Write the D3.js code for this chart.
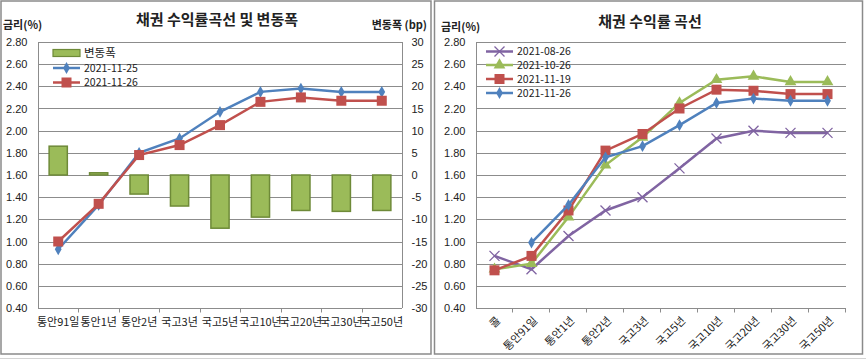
<!DOCTYPE html>
<html>
<head>
<meta charset="utf-8">
<script src="https://cdn.jsdelivr.net/npm/d3@7/dist/d3.min.js"></script>
<style>
  body { margin: 0; background: #fff; }
  svg { display: block; font-family: "Noto Sans CJK KR", "Noto Sans", sans-serif; }
  .grid line { stroke: #8c8c8c; stroke-width: 1; }
  .axis path, .axis line { stroke: #8c8c8c; }
  .axis text { fill: #222; font-size: 11px; }
</style>
</head>
<body>
<svg id="chart" width="866" height="361"></svg>
<script>
// left chart: 2021-11-25 vs 2021-11-26
const leftCats = ['통안91일', '통안1년', '통안2년', '국고3년', '국고5년', '국고10년', '국고20년', '국고30년', '국고50년'];
const leftPrev = [0.93, 1.33, 1.80, 1.93, 2.17, 2.35, 2.38, 2.35, 2.35];
const leftCurr = [1.00, 1.34, 1.78, 1.87, 2.05, 2.26, 2.30, 2.27, 2.27];
const leftChange = [6.5, 0.5, -4.3, -7.0, -12.0, -9.5, -8.0, -8.2, -8.0];

// right chart: four dates
const rightCats = ['콜', '통안91일', '통안1년', '통안2년', '국고3년', '국고5년', '국고10년', '국고20년', '국고30년', '국고50년'];
const aug26 = [0.87, 0.75, 1.05, 1.28, 1.40, 1.66, 1.93, 2.00, 1.98, 1.98];
const oct26 = [0.75, 0.80, 1.22, 1.69, 1.94, 2.25, 2.46, 2.49, 2.44, 2.44];
const nov19 = [0.74, 0.87, 1.28, 1.82, 1.97, 2.20, 2.37, 2.36, 2.33, 2.33];
const nov26 = [null, 0.99, 1.33, 1.76, 1.86, 2.05, 2.25, 2.29, 2.27, 2.27];

const rateTicks = d3.range(0.4, 2.81, 0.2);
const bpTicks = d3.range(-30, 31, 5);

const blue = '#4f81bd', red = '#c0504d', green = '#9bbb59', purple = '#8064a2';

const svg = d3.select('#chart');

// panel frames
svg.append('rect').attr('x', 1).attr('y', 1).attr('width', 430).attr('height', 353)
    .attr('fill', 'none').attr('stroke', '#8a8a8a').attr('stroke-width', 1.5);
svg.append('rect').attr('x', 434.5).attr('y', 1).attr('width', 428).attr('height', 353)
    .attr('fill', 'none').attr('stroke', '#8a8a8a').attr('stroke-width', 1.5);
svg.append('line').attr('x1', 0).attr('x2', 866).attr('y1', 358.5).attr('y2', 358.5)
    .attr('stroke', '#d4d4d4');

function drawMarker(g, type, color) {
    if (type === 'diamond') {
        g.append('path').attr('d', d3.symbol(d3.symbolDiamond, 40)()).attr('fill', color);
    } else if (type === 'square') {
        g.append('rect').attr('x', -5).attr('y', -5).attr('width', 10).attr('height', 10).attr('fill', color);
    } else if (type === 'triangle') {
        g.append('path').attr('d', d3.symbol(d3.symbolTriangle, 60)()).attr('fill', color);
    } else if (type === 'cross') {
        g.append('path').attr('d', 'M-5,-5L5,5M-5,5L5,-5').attr('stroke', color).attr('stroke-width', 1.3).attr('fill', 'none');
    }
}

function drawSeries(g, x, y, values, color, marker) {
    const pts = values.map((v, i) => ({cat: x.domain()[i], v})).filter(d => d.v !== null);
    const line = d3.line().x(d => x(d.cat) + x.bandwidth() / 2).y(d => y(d.v));
    g.append('path').datum(pts).attr('d', line)
        .attr('fill', 'none').attr('stroke', color).attr('stroke-width', 2.5);
    pts.forEach(d => {
        const m = g.append('g').attr('transform', `translate(${x(d.cat) + x.bandwidth() / 2},${y(d.v)})`);
        drawMarker(m, marker, color);
    });
}

function legendRow(g, x0, y0, label, color, marker) {
    g.append('line').attr('x1', x0).attr('x2', x0 + 27).attr('y1', y0).attr('y2', y0)
        .attr('stroke', color).attr('stroke-width', 2.5);
    const m = g.append('g').attr('transform', `translate(${x0 + 13.5},${y0})`);
    drawMarker(m, marker, color);
    g.append('text').attr('x', x0 + 31).attr('y', y0).attr('dy', '0.35em')
        .attr('font-size', 10.5).attr('fill', '#222').text(label);
}

function rateGrid(g, x0, x1, y) {
    g.append('g').attr('class', 'grid').selectAll('line').data(rateTicks).join('line')
        .attr('x1', x0).attr('x2', x1).attr('y1', d => Math.round(y(d)) + 0.5).attr('y2', d => Math.round(y(d)) + 0.5);
}

// ---------- left chart ----------
const L = {left: 38, right: 402, top: 42, bottom: 308};
const xL = d3.scaleBand().domain(leftCats).range([L.left, L.right]);
const yL = d3.scaleLinear().domain([0.4, 2.8]).range([L.bottom, L.top]);
const yBp = d3.scaleLinear().domain([-30, 30]).range([L.bottom, L.top]);

const gL = svg.append('g');
rateGrid(gL, L.left, L.right, yL);

gL.append('g').attr('class', 'axis').attr('transform', `translate(${L.left + 0.5},0)`)
    .call(d3.axisLeft(yL).tickValues(rateTicks).tickFormat(d => d.toFixed(2)).tickSize(0).tickPadding(11))
    .call(a => a.select('.domain').remove());
gL.append('line').attr('x1', L.left + 0.5).attr('x2', L.left + 0.5).attr('y1', L.top).attr('y2', L.bottom).attr('stroke', '#8c8c8c');

gL.append('g').attr('class', 'axis').attr('transform', `translate(${L.right + 0.5},0)`)
    .call(d3.axisRight(yBp).tickValues(bpTicks).tickFormat(d => String(d)).tickSize(0).tickPadding(9))
    .call(a => a.select('.domain').remove());
gL.append('line').attr('x1', L.right + 0.5).attr('x2', L.right + 0.5).attr('y1', L.top).attr('y2', L.bottom).attr('stroke', '#8c8c8c');

const xAxisL = gL.append('g').attr('class', 'axis').attr('transform', `translate(0,${L.bottom + 0.5})`);
xAxisL.append('line').attr('x1', L.left).attr('x2', L.right).attr('stroke', '#8c8c8c');
xAxisL.selectAll('.tk').data(leftCats.slice(1)).join('line').attr('class', 'tk')
    .attr('x1', d => Math.round(xL(d)) + 0.5).attr('x2', d => Math.round(xL(d)) + 0.5).attr('y1', 0).attr('y2', 4);
xAxisL.selectAll('text').data(leftCats).join('text')
    .attr('x', d => xL(d) + xL.bandwidth() / 2).attr('y', 17).attr('text-anchor', 'middle')
    .attr('font-size', 11.5).text(d => d);

// bars
const barW = xL.bandwidth() * 0.45;
gL.append('g').selectAll('rect').data(leftChange).join('rect')
    .attr('x', (d, i) => xL(leftCats[i]) + (xL.bandwidth() - barW) / 2)
    .attr('y', d => yBp(Math.max(0, d)))
    .attr('width', barW)
    .attr('height', d => Math.abs(yBp(d) - yBp(0)))
    .attr('fill', green).attr('stroke', '#6e8a38').attr('stroke-width', 1.5);

drawSeries(gL, xL, yL, leftPrev, blue, 'diamond');
drawSeries(gL, xL, yL, leftCurr, red, 'square');

// legend left
gL.append('rect').attr('x', 53).attr('y', 49.5).attr('width', 27).attr('height', 7)
    .attr('fill', green).attr('stroke', '#6e8a38').attr('stroke-width', 1.2);
gL.append('text').attr('x', 84).attr('y', 53).attr('dy', '0.35em').attr('font-size', 11.5).attr('fill', '#222').text('변동폭');
legendRow(gL, 53, 68, '2021-11-25', blue, 'diamond');
legendRow(gL, 53, 82.5, '2021-11-26', red, 'square');

// titles left
gL.append('text').attr('x', 217).attr('y', 20).attr('dy', '0.35em').attr('text-anchor', 'middle')
    .attr('font-size', 15).attr('font-weight', 'bold').attr('fill', '#222').text('채권 수익률곡선 및 변동폭');
gL.append('text').attr('x', 3).attr('y', 25).attr('dy', '0.35em')
    .attr('font-size', 11).attr('font-weight', 'bold').attr('fill', '#222').text('금리(%)');
gL.append('text').attr('x', 427).attr('y', 25).attr('dy', '0.35em').attr('text-anchor', 'end')
    .attr('font-size', 11).attr('font-weight', 'bold').attr('fill', '#222').text('변동폭 (bp)');

// ---------- right chart ----------
const R = {left: 476, right: 846, top: 42, bottom: 308};
const xR = d3.scaleBand().domain(rightCats).range([R.left, R.right]);
const yR = d3.scaleLinear().domain([0.4, 2.8]).range([R.bottom, R.top]);

const gR = svg.append('g');
rateGrid(gR, R.left, R.right, yR);

gR.append('g').attr('class', 'axis').attr('transform', `translate(${R.left + 0.5},0)`)
    .call(d3.axisLeft(yR).tickValues(rateTicks).tickFormat(d => d.toFixed(2)).tickSize(0).tickPadding(11))
    .call(a => a.select('.domain').remove());
gR.append('line').attr('x1', R.left + 0.5).attr('x2', R.left + 0.5).attr('y1', R.top).attr('y2', R.bottom).attr('stroke', '#8c8c8c');

const xAxisR = gR.append('g').attr('class', 'axis').attr('transform', `translate(0,${R.bottom + 0.5})`);
xAxisR.selectAll('.tk').data(rightCats.slice(1).concat(['end'])).join('line').attr('class', 'tk')
    .attr('x1', d => Math.round(d === 'end' ? R.right : xR(d)) - 0.5)
    .attr('x2', d => Math.round(d === 'end' ? R.right : xR(d)) - 0.5)
    .attr('y1', 0).attr('y2', 4);
xAxisR.selectAll('text').data(rightCats).join('text')
    .attr('transform', d => `translate(${xR(d) + xR.bandwidth() / 2 + 4},10) rotate(-45)`)
    .attr('text-anchor', 'end').attr('dy', '0.35em')
    .attr('font-size', 11).text(d => d);

drawSeries(gR, xR, yR, aug26, purple, 'cross');
drawSeries(gR, xR, yR, oct26, green, 'triangle');
drawSeries(gR, xR, yR, nov19, red, 'square');
drawSeries(gR, xR, yR, nov26, blue, 'diamond');

legendRow(gR, 486, 51.5, '2021-08-26', purple, 'cross');
legendRow(gR, 486, 65, '2021-10-26', green, 'triangle');
legendRow(gR, 486, 79, '2021-11-19', red, 'square');
legendRow(gR, 486, 93, '2021-11-26', blue, 'diamond');

gR.append('text').attr('x', 650).attr('y', 22).attr('dy', '0.35em').attr('text-anchor', 'middle')
    .attr('font-size', 15).attr('font-weight', 'bold').attr('fill', '#222').text('채권 수익률 곡선');
gR.append('text').attr('x', 441).attr('y', 27).attr('dy', '0.35em')
    .attr('font-size', 11).attr('font-weight', 'bold').attr('fill', '#222').text('금리(%)');
</script>
</body>
</html>
